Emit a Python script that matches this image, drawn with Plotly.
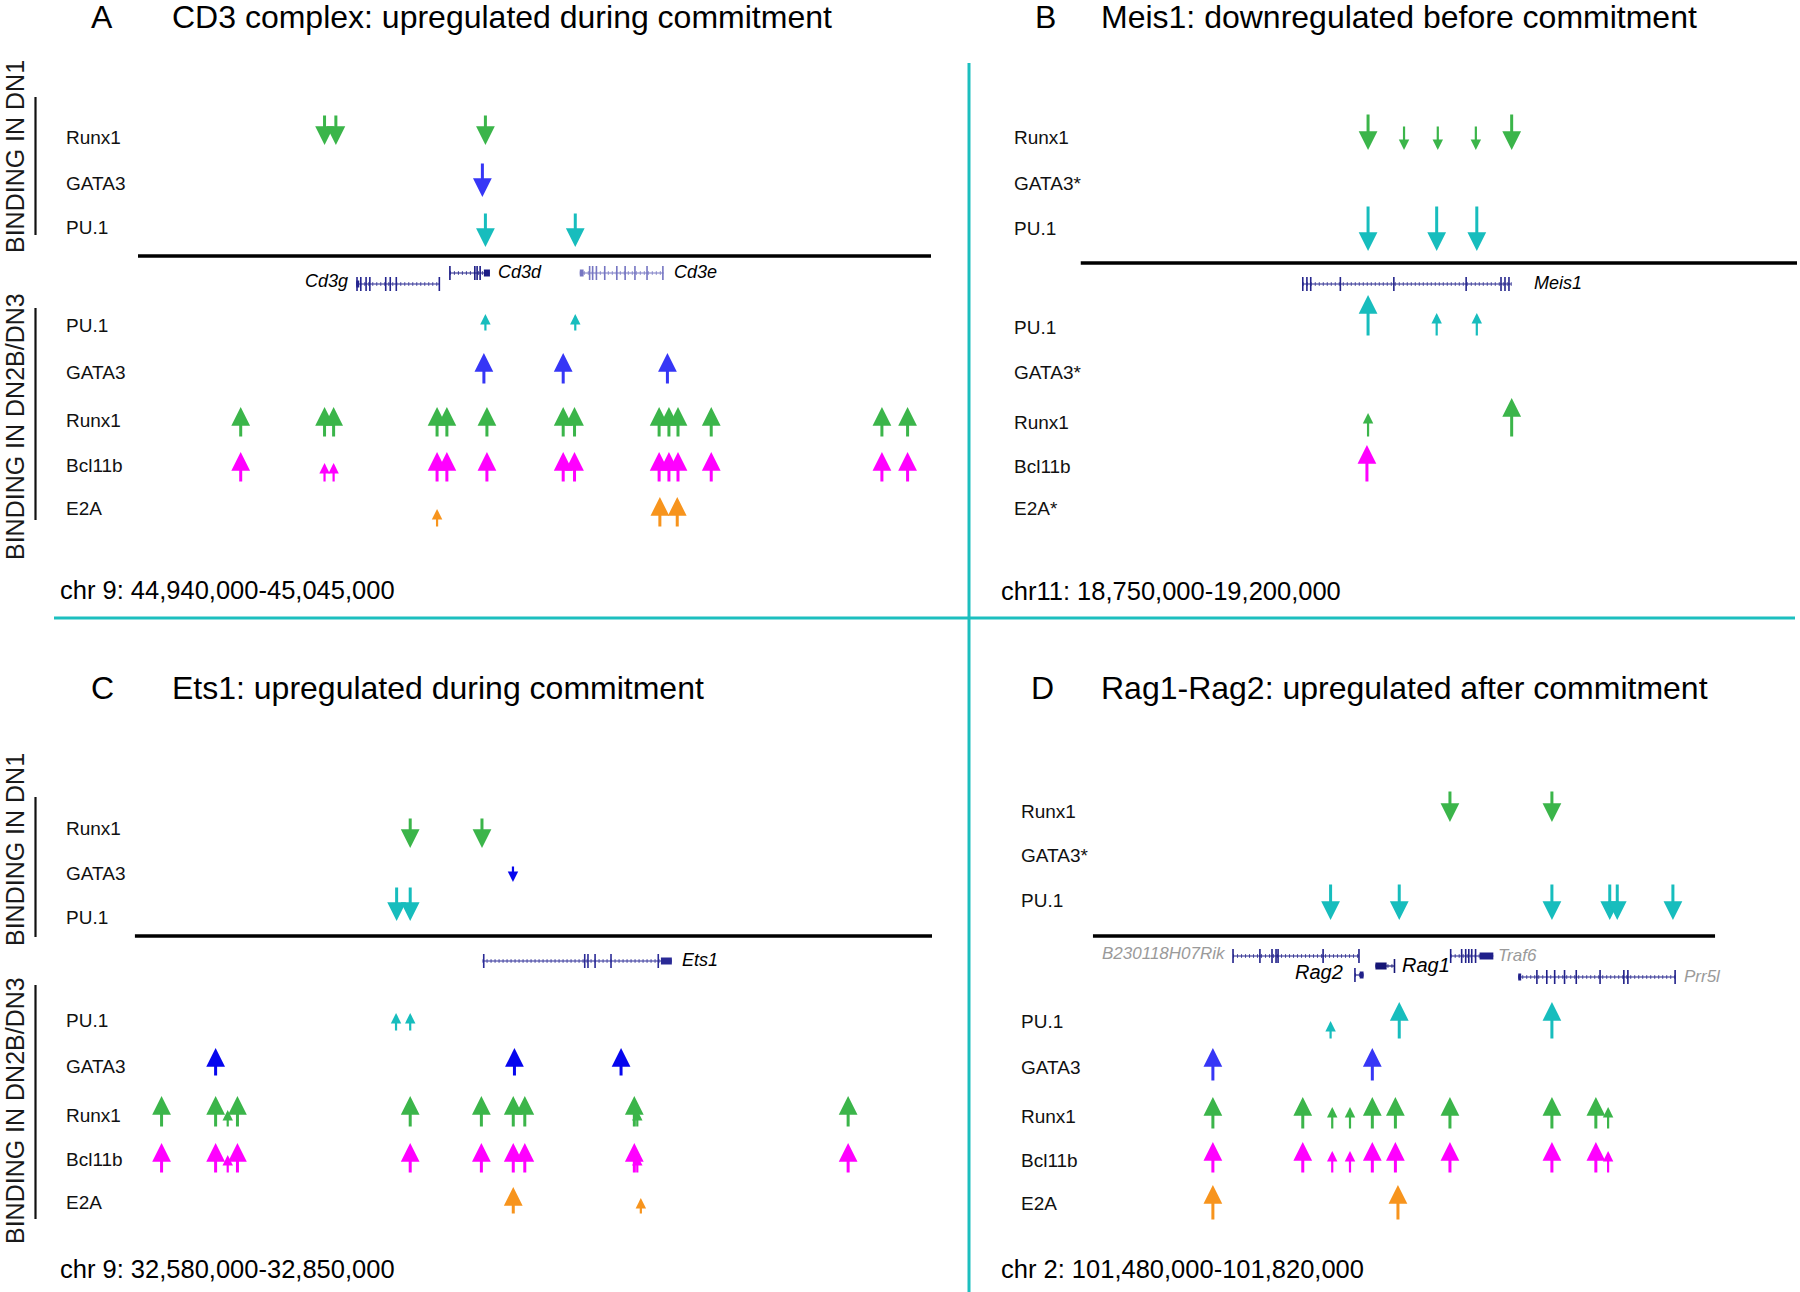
import plotly.graph_objects as go

W, H = 1800, 1292
FONT = "Liberation Sans, Arial, Helvetica, sans-serif"

# ---------------- DATA ----------------
PANEL_IDS = ["A", "B", "C", "D"]
TITLES = ["CD3 complex: upregulated during commitment",
          "Meis1: downregulated before commitment",
          "Ets1: upregulated during commitment",
          "Rag1-Rag2: upregulated after commitment"]
CHROM_LABELS = ["chr 9: 44,940,000-45,045,000",
                "chr11: 18,750,000-19,200,000",
                "chr 9: 32,580,000-32,850,000",
                "chr 2: 101,480,000-101,820,000"]
RANGE_START_KB = [44940, 18750, 32580, 101480]
RANGE_END_KB = [45045, 19200, 32850, 101820]

DN1_TRACKS = ["Runx1", "GATA3", "PU.1"]
DN2_TRACKS = ["PU.1", "GATA3", "Runx1", "Bcl11b", "E2A"]
# tracks whose name carries an asterisk, per panel and stage
STARRED = {("B", "DN1"): ["GATA3"], ("B", "DN2"): ["GATA3", "E2A"],
           ("D", "DN1"): ["GATA3"]}

# Binding sites: genomic position (kb) and peak strength (2 = strong, 1 = weak)
A_DN1_RUNX1 = [44964.7, 44966.2, 44986.0];  A_DN1_RUNX1_S = [2, 2, 2]
A_DN1_GATA3 = [44985.6];                    A_DN1_GATA3_S = [2]
A_DN1_PU1 = [44986.0, 44997.9];             A_DN1_PU1_S = [2, 2]
A_DN2_PU1 = [44986.0, 44997.9];             A_DN2_PU1_S = [1, 1]
A_DN2_GATA3 = [44985.8, 44996.3, 45010.1];  A_DN2_GATA3_S = [2, 2, 2]
A_DN2_RUNX1 = [44953.6, 44964.7, 44965.9, 44979.6, 44980.9, 44986.2, 44996.3,
               44997.8, 45009.0, 45010.3, 45011.5, 45015.9, 45038.5, 45041.9]
A_DN2_RUNX1_S = [2] * 14
A_DN2_BCL11B = [44953.6, 44964.7, 44965.9, 44979.6, 44980.9, 44986.2, 44996.3,
                44997.8, 45009.0, 45010.3, 45011.5, 45015.9, 45038.5, 45041.9]
A_DN2_BCL11B_S = [2, 1, 1, 2, 2, 2, 2, 2, 2, 2, 2, 2, 2, 2]
A_DN2_E2A = [44979.6, 45009.1, 45011.4];    A_DN2_E2A_S = [1, 2, 2]

B_DN1_RUNX1 = [18930.6, 18953.2, 18974.4, 18998.3, 19020.8]; B_DN1_RUNX1_S = [2, 1, 1, 1, 2]
B_DN1_PU1 = [18930.6, 18973.7, 18998.9];    B_DN1_PU1_S = [2, 2, 2]
B_DN2_PU1 = [18930.6, 18973.7, 18998.9];    B_DN2_PU1_S = [2, 1, 1]
B_DN2_RUNX1 = [18930.6, 19020.8];           B_DN2_RUNX1_S = [1, 2]
B_DN2_BCL11B = [18929.9];                   B_DN2_BCL11B_S = [2]

C_DN1_RUNX1 = [32673.3, 32697.6];           C_DN1_RUNX1_S = [2, 2]
C_DN1_GATA3 = [32708.1];                    C_DN1_GATA3_S = [1]
C_DN1_PU1 = [32668.7, 32673.3];             C_DN1_PU1_S = [2, 2]
C_DN2_PU1 = [32668.5, 32673.3];             C_DN2_PU1_S = [1, 1]
C_DN2_GATA3 = [32607.4, 32708.6, 32744.7];  C_DN2_GATA3_S = [2, 2, 2]
C_DN2_RUNX1 = [32589.1, 32607.4, 32611.5, 32614.8, 32673.3, 32697.4, 32708.2,
               32712.1, 32749.2, 32750.2, 32821.6]
C_DN2_RUNX1_S = [2, 2, 1, 2, 2, 2, 2, 2, 2, 1, 2]
C_DN2_BCL11B = [32589.1, 32607.4, 32611.5, 32614.8, 32673.3, 32697.4, 32708.2,
                32712.1, 32749.2, 32750.2, 32821.6]
C_DN2_BCL11B_S = [2, 2, 1, 2, 2, 2, 2, 2, 2, 1, 2]
C_DN2_E2A = [32708.2, 32751.4];             C_DN2_E2A_S = [2, 1]

D_DN1_RUNX1 = [101675.1, 101730.8];         D_DN1_RUNX1_S = [2, 2]
D_DN1_PU1 = [101609.9, 101647.4, 101730.8, 101762.4, 101766.5, 101796.9]
D_DN1_PU1_S = [2, 2, 2, 2, 2, 2]
D_DN2_PU1 = [101609.9, 101647.4, 101730.8]; D_DN2_PU1_S = [1, 2, 2]
D_DN2_GATA3 = [101545.6, 101632.7];         D_DN2_GATA3_S = [2, 2]
D_DN2_RUNX1 = [101545.6, 101594.7, 101610.8, 101620.5, 101632.7, 101645.3,
               101675.1, 101730.8, 101754.8, 101761.5]
D_DN2_RUNX1_S = [2, 2, 1, 1, 2, 2, 2, 2, 2, 1]
D_DN2_BCL11B = [101545.6, 101594.7, 101610.8, 101620.5, 101632.7, 101645.3,
                101675.1, 101730.8, 101754.8, 101761.5]
D_DN2_BCL11B_S = [2, 2, 1, 1, 2, 2, 2, 2, 2, 1]
D_DN2_E2A = [101545.6, 101646.7];           D_DN2_E2A_S = [2, 2]

SITES = {
    "A": {("DN1", "Runx1"): (A_DN1_RUNX1, A_DN1_RUNX1_S),
          ("DN1", "GATA3"): (A_DN1_GATA3, A_DN1_GATA3_S),
          ("DN1", "PU.1"): (A_DN1_PU1, A_DN1_PU1_S),
          ("DN2", "PU.1"): (A_DN2_PU1, A_DN2_PU1_S),
          ("DN2", "GATA3"): (A_DN2_GATA3, A_DN2_GATA3_S),
          ("DN2", "Runx1"): (A_DN2_RUNX1, A_DN2_RUNX1_S),
          ("DN2", "Bcl11b"): (A_DN2_BCL11B, A_DN2_BCL11B_S),
          ("DN2", "E2A"): (A_DN2_E2A, A_DN2_E2A_S)},
    "B": {("DN1", "Runx1"): (B_DN1_RUNX1, B_DN1_RUNX1_S),
          ("DN1", "PU.1"): (B_DN1_PU1, B_DN1_PU1_S),
          ("DN2", "PU.1"): (B_DN2_PU1, B_DN2_PU1_S),
          ("DN2", "Runx1"): (B_DN2_RUNX1, B_DN2_RUNX1_S),
          ("DN2", "Bcl11b"): (B_DN2_BCL11B, B_DN2_BCL11B_S)},
    "C": {("DN1", "Runx1"): (C_DN1_RUNX1, C_DN1_RUNX1_S),
          ("DN1", "GATA3"): (C_DN1_GATA3, C_DN1_GATA3_S),
          ("DN1", "PU.1"): (C_DN1_PU1, C_DN1_PU1_S),
          ("DN2", "PU.1"): (C_DN2_PU1, C_DN2_PU1_S),
          ("DN2", "GATA3"): (C_DN2_GATA3, C_DN2_GATA3_S),
          ("DN2", "Runx1"): (C_DN2_RUNX1, C_DN2_RUNX1_S),
          ("DN2", "Bcl11b"): (C_DN2_BCL11B, C_DN2_BCL11B_S),
          ("DN2", "E2A"): (C_DN2_E2A, C_DN2_E2A_S)},
    "D": {("DN1", "Runx1"): (D_DN1_RUNX1, D_DN1_RUNX1_S),
          ("DN1", "PU.1"): (D_DN1_PU1, D_DN1_PU1_S),
          ("DN2", "PU.1"): (D_DN2_PU1, D_DN2_PU1_S),
          ("DN2", "GATA3"): (D_DN2_GATA3, D_DN2_GATA3_S),
          ("DN2", "Runx1"): (D_DN2_RUNX1, D_DN2_RUNX1_S),
          ("DN2", "Bcl11b"): (D_DN2_BCL11B, D_DN2_BCL11B_S),
          ("DN2", "E2A"): (D_DN2_E2A, D_DN2_E2A_S)},
}

# Gene models (kb)
GENE_NAMES = {"A": ["Cd3g", "Cd3d", "Cd3e"], "B": ["Meis1"], "C": ["Ets1"],
              "D": ["B230118H07Rik", "Traf6", "Rag1", "Rag2", "Prr5l"]}
GENE_START = {"Cd3g": 44968.9, "Cd3d": 44981.3, "Cd3e": 44998.5, "Meis1": 18889.6,
              "Ets1": 32697.8, "B230118H07Rik": 101556.6, "Traf6": 101675.5,
              "Rag1": 101634.4, "Rag2": 101623.2, "Prr5l": 101712.4}
GENE_END = {"Cd3g": 44979.9, "Cd3d": 44986.6, "Cd3e": 45009.6, "Meis1": 19020.8,
            "Ets1": 32761.9, "B230118H07Rik": 101625.4, "Traf6": 101698.8,
            "Rag1": 101644.8, "Rag2": 101627.9, "Prr5l": 101798.1}
GENE_EXONS = {
    "Cd3g": [44969.0, 44969.5, 44970.2, 44970.7, 44972.8, 44973.4, 44974.2, 44979.9],
    "Cd3d": [44981.3, 44984.6, 44984.9, 44985.3],
    "Cd3e": [44999.8, 45000.2, 45000.7, 45001.8, 45003.4, 45004.5, 45005.8, 45007.4, 45009.5],
    "Meis1": [18889.6, 18892.2, 18894.6, 18913.2, 18946.8, 18992.2, 19014.1, 19016.6, 19019.1],
    "Ets1": [32698.2, 32732.4, 32733.5, 32735.9, 32741.3, 32757.3],
    "B230118H07Rik": [101556.6, 101571.3, 101577.9, 101580.1, 101581.2, 101605.8, 101625.4],
    "Traf6": [101675.5, 101681.5, 101683.7, 101685.4, 101687.0, 101689.1],
    "Rag1": [101644.8],
    "Rag2": [101623.2],
    "Prr5l": [101722.6, 101728.0, 101732.3, 101737.7, 101744.1, 101757.1, 101770.1, 101772.3, 101798.1],
}
GENE_BLOCKS = {
    "Cd3g": [(44968.9, 44969.3)], "Cd3d": [(44985.8, 44986.6)], "Cd3e": [(44998.5, 44999.0)],
    "Meis1": [], "Ets1": [(32758.2, 32761.9)], "B230118H07Rik": [],
    "Traf6": [(101691.3, 101698.8)], "Rag1": [(101634.4, 101640.5)],
    "Rag2": [(101625.8, 101627.9)], "Prr5l": [(101712.4, 101714.0)],
}

# ---------------- LAYOUT / STYLE ----------------
TRACK_COLORS = {"Runx1": "#3bb54a", "GATA3": "#3636f6", "PU.1": "#17bdbd",
                "Bcl11b": "#ff00ff", "E2A": "#f7941d"}
GATA3_COLOR_C = "#0606ee"
TEAL = "#1cbfbf"

GEOM = {
    "A": dict(x0=138, x1=931, base=256, lab_x=63.5, letter=(102, 17), title_x=170,
              chr=(58, 590),
              dn1={"Runx1": (145, 137), "GATA3": (197, 183), "PU.1": (247, 227)},
              dn2={"PU.1": (332, 325), "GATA3": (385, 372), "Runx1": (438, 420),
                   "Bcl11b": (483, 465), "E2A": (528, 508)},
              lens={("DN1", "Runx1"): (31, 20), ("DN1", "GATA3"): (35, 20), ("DN1", "PU.1"): (35, 20),
                    ("DN2", "PU.1"): (31, 18), ("DN2", "GATA3"): (32, 18), ("DN2", "Runx1"): (31, 18),
                    ("DN2", "Bcl11b"): (31, 20), ("DN2", "E2A"): (31, 19)},
              gene_rows={"Cd3g": 284, "Cd3d": 273, "Cd3e": 273}),
    "B": dict(x0=1080.5, x1=1797, base=263, lab_x=1011.6, letter=(1045, 17), title_x=1099,
              chr=(999, 591),
              dn1={"Runx1": (150, 137), "GATA3": (197, 183), "PU.1": (251, 228)},
              dn2={"PU.1": (337, 327), "GATA3": (385, 372), "Runx1": (438, 422),
                   "Bcl11b": (483, 466), "E2A": (528, 508)},
              lens={("DN1", "Runx1"): (37, 25), ("DN1", "PU.1"): (46, 25),
                    ("DN2", "PU.1"): (42, 24), ("DN2", "Runx1"): (40, 25), ("DN2", "Bcl11b"): (38, 22)},
              gene_rows={"Meis1": 284}),
    "C": dict(x0=134.7, x1=932, base=936, lab_x=63.5, letter=(102, 688), title_x=170,
              chr=(58, 1269),
              dn1={"Runx1": (848, 828), "GATA3": (882, 873), "PU.1": (921, 917)},
              dn2={"PU.1": (1032, 1020), "GATA3": (1077, 1066), "Runx1": (1128, 1115),
                   "Bcl11b": (1174, 1159), "E2A": (1215, 1202)},
              lens={("DN1", "Runx1"): (31, 18), ("DN1", "GATA3"): (30, 17), ("DN1", "PU.1"): (35, 18),
                    ("DN2", "PU.1"): (30, 19), ("DN2", "GATA3"): (29, 17), ("DN2", "Runx1"): (32, 18),
                    ("DN2", "Bcl11b"): (31, 19), ("DN2", "E2A"): (28, 17)},
              gene_rows={"Ets1": 961}),
    "D": dict(x0=1092.8, x1=1715.2, base=936, lab_x=1018.5, letter=(1042, 688), title_x=1099,
              chr=(999, 1269),
              dn1={"Runx1": (822, 811), "GATA3": (870, 855), "PU.1": (920, 900)},
              dn2={"PU.1": (1040, 1021), "GATA3": (1082, 1067), "Runx1": (1130, 1116),
                   "Bcl11b": (1174, 1160), "E2A": (1221, 1203)},
              lens={("DN1", "Runx1"): (32, 18), ("DN1", "PU.1"): (37, 20),
                    ("DN2", "PU.1"): (38, 19), ("DN2", "GATA3"): (34, 18), ("DN2", "Runx1"): (33, 23),
                    ("DN2", "Bcl11b"): (32, 23), ("DN2", "E2A"): (36, 18)},
              gene_rows={"B230118H07Rik": 956, "Traf6": 956, "Rag1": 966, "Rag2": 975, "Prr5l": 977}),
}
GENE_STYLE = {  # colour, label side, label colour, label size, label shift
    "Cd3g": ("#24248f", "left", "#000000", 18, -6),
    "Cd3d": ("#1c1c86", "right", "#000000", 18, 6),
    "Cd3e": ("#7575c2", "right", "#000000", 18, 8),
    "Meis1": ("#25258c", "right", "#000000", 18, 20),
    "Ets1": ("#2a2a96", "right", "#000000", 18, 8),
    "B230118H07Rik": ("#20208a", "left", "#9a9a9a", 17, -5),
    "Traf6": ("#20208a", "right", "#9a9a9a", 17, 3),
    "Rag1": ("#151575", "right", "#000000", 20, 6),
    "Rag2": ("#20208a", "left", "#000000", 20, -10),
    "Prr5l": ("#20208a", "right", "#9a9a9a", 17, 7),
}
BINDING_LABELS = {"A": [("BINDING IN DN1", 157), ("BINDING IN DN2B/DN3", 427)],
                  "C": [("BINDING IN DN1", 850), ("BINDING IN DN2B/DN3", 1111)]}
BRACKETS = {"A": [(97, 235), (308, 520)], "C": [(797, 937), (985, 1219)]}

# ---------------- FIGURE ----------------
fig = go.Figure()
annotations = []
shapes = []
layout_axes = {}

for i, pid in enumerate(PANEL_IDS):
    g = GEOM[pid]
    xa = "xaxis" if i == 0 else f"xaxis{i+1}"
    xr = "x" if i == 0 else f"x{i+1}"
    layout_axes[xa] = dict(domain=[g["x0"] / W, g["x1"] / W],
                           range=[RANGE_START_KB[i], RANGE_END_KB[i]],
                           visible=False, anchor="y", fixedrange=True)

    # baseline (the genomic window)
    fig.add_trace(go.Scatter(x=[RANGE_START_KB[i], RANGE_END_KB[i]], y=[g["base"], g["base"]],
                             xaxis=xr, yaxis="y", mode="lines",
                             line=dict(color="#000000", width=3.6),
                             hoverinfo="skip", showlegend=False, cliponaxis=False))

    # genes
    for gname in GENE_NAMES[pid]:
        col, side, lcol, lsize, lshift = GENE_STYLE[gname]
        yrow = g["gene_rows"][gname]
        s, e = GENE_START[gname], GENE_END[gname]
        fig.add_trace(go.Scatter(x=[s, e], y=[yrow, yrow], xaxis=xr, yaxis="y", mode="lines",
                                 line=dict(color=col, width=1.2), hoverinfo="skip", showlegend=False))
        fig.add_trace(go.Scatter(x=[s, e], y=[yrow, yrow], xaxis=xr, yaxis="y", mode="lines",
                                 line=dict(color=col, width=4, dash="1px,3px"),
                                 opacity=0.7, hoverinfo="skip", showlegend=False))
        ex = GENE_EXONS[gname]
        fig.add_trace(go.Scatter(x=ex, y=[yrow] * len(ex), xaxis=xr, yaxis="y", mode="markers",
                                 marker=dict(symbol="line-ns", size=10, line=dict(color=col, width=1.6)),
                                 hoverinfo="skip", showlegend=False))
        bx, by = [], []
        for (b0, b1) in GENE_BLOCKS[gname]:
            bx += [b0, b1, None]
            by += [yrow, yrow, None]
        if bx:
            fig.add_trace(go.Scatter(x=bx, y=by, xaxis=xr, yaxis="y", mode="lines",
                                     line=dict(color=col, width=7), hoverinfo="skip", showlegend=False))
        if side == "left":
            annotations.append(dict(x=s, y=yrow - 3, xref=xr, yref="y", text=f"<i>{gname}</i>",
                                    showarrow=False, xanchor="right", yanchor="middle", xshift=lshift,
                                    font=dict(family=FONT, size=lsize, color=lcol)))
        else:
            annotations.append(dict(x=e, y=yrow - 1, xref=xr, yref="y", text=f"<i>{gname}</i>",
                                    showarrow=False, xanchor="left", yanchor="middle", xshift=lshift,
                                    font=dict(family=FONT, size=lsize, color=lcol)))

    # track labels
    for grp, tracks, key in (("DN1", DN1_TRACKS, "dn1"), ("DN2", DN2_TRACKS, "dn2")):
        for tname in tracks:
            label_y = g[key][tname][1]
            txt = tname + ("*" if tname in STARRED.get((pid, grp), []) else "")
            annotations.append(dict(x=g["lab_x"] / W, y=label_y, xref="paper", yref="y", text=txt,
                                    showarrow=False, xanchor="left", yanchor="middle",
                                    font=dict(family=FONT, size=19, color="#111111")))

    # binding-site arrows
    for (grp, tname), (pos, strength) in SITES[pid].items():
        key = "dn1" if grp == "DN1" else "dn2"
        anchor_y = g[key][tname][0]
        big_len, small_len = g["lens"][(grp, tname)]
        color = TRACK_COLORS[tname]
        if pid == "C" and tname == "GATA3":
            color = GATA3_COLOR_C
        for p, st in zip(pos, strength):
            L = big_len if st == 2 else small_len
            w = 3.0 if st == 2 else 2.2
            sz = 1.25 if st == 2 else 0.95
            if grp == "DN1":   # pointing down, tips aligned
                tip, ay = anchor_y, -L
            else:              # pointing up, tails aligned
                tip, ay = anchor_y - L, L
            annotations.append(dict(x=p, y=tip, xref=xr, yref="y", text="", showarrow=True,
                                    ax=0, ay=ay, axref="pixel", ayref="pixel",
                                    arrowhead=2, arrowsize=sz, arrowwidth=w, arrowcolor=color,
                                    standoff=0))

    # panel letter, title, coordinates
    lx, ly = g["letter"]
    annotations.append(dict(x=lx / W, y=ly, xref="paper", yref="y", text=pid, showarrow=False,
                            xanchor="center", yanchor="middle",
                            font=dict(family=FONT, size=32, color="#000000")))
    annotations.append(dict(x=g["title_x"] / W, y=ly, xref="paper", yref="y", text=TITLES[i],
                            showarrow=False, xanchor="left", yanchor="middle",
                            font=dict(family=FONT, size=32, color="#000000")))
    cx, cy = g["chr"]
    annotations.append(dict(x=cx / W, y=cy, xref="paper", yref="y", text=CHROM_LABELS[i],
                            showarrow=False, xanchor="left", yanchor="middle",
                            font=dict(family=FONT, size=25.5, color="#000000")))

    for (txt, yc) in BINDING_LABELS.get(pid, []):
        annotations.append(dict(x=0, y=yc, xref="paper", yref="y", text=txt, showarrow=False,
                                textangle=-90, xanchor="left", yanchor="middle", borderpad=0,
                                font=dict(family=FONT, size=25, color="#1a1a1a")))
    for (y0, y1) in BRACKETS.get(pid, []):
        shapes.append(dict(type="line", xref="paper", yref="y", x0=35.5 / W, x1=35.5 / W,
                           y0=y0, y1=y1, line=dict(color="#111111", width=2.2)))

# teal dividers
shapes.append(dict(type="line", xref="paper", yref="y", x0=54 / W, x1=1795 / W, y0=618, y1=618,
                   line=dict(color=TEAL, width=3)))
shapes.append(dict(type="line", xref="paper", yref="y", x0=969 / W, x1=969 / W, y0=63, y1=H,
                   line=dict(color=TEAL, width=3)))

fig.update_layout(
    width=W, height=H, autosize=False,
    margin=dict(l=0, r=0, t=0, b=0),
    paper_bgcolor="white", plot_bgcolor="rgba(0,0,0,0)",
    showlegend=False,
    yaxis=dict(domain=[0, 1], range=[H, 0], visible=False, anchor="x", fixedrange=True),
    annotations=annotations, shapes=shapes,
    **layout_axes,
)

fig.write_html("out.html", config={"displayModeBar": False},
               post_script="document.body.style.margin='0';document.body.style.overflow='hidden';")
